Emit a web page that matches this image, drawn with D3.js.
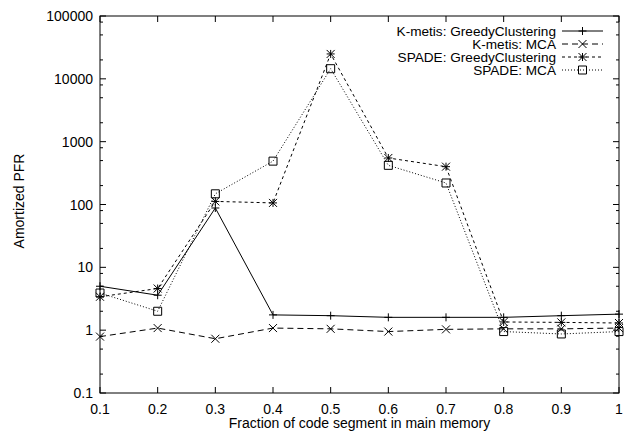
<!DOCTYPE html>
<html>
<head>
<meta charset="utf-8">
<script src="https://cdn.jsdelivr.net/npm/d3@7"></script>
<style>
  body { margin: 0; background: #fff; }
  svg text { font-family: "Liberation Sans", Arial, Helvetica, sans-serif; font-size: 14px; fill: #000; }
</style>
</head>
<body>
<svg id="chart" width="631" height="435"></svg>
<script>
// Data
const fractions = [0.1, 0.2, 0.3, 0.4, 0.5, 0.6, 0.7, 0.8, 0.9, 1.0];
const kmetisGreedy = [5.0, 3.6, 88, 1.75, 1.7, 1.6, 1.6, 1.6, 1.7, 1.8];
const kmetisMCA = [0.79, 1.08, 0.73, 1.08, 1.05, 0.95, 1.03, 1.05, 1.05, 1.08];
const spadeGreedy = [3.4, 4.6, 112, 106, 24900, 550, 400, 1.35, 1.33, 1.3];
const spadeMCA = [3.9, 2.0, 148, 490, 14500, 420, 220, 0.95, 0.87, 0.95];

const xTicks = [0.1, 0.2, 0.3, 0.4, 0.5, 0.6, 0.7, 0.8, 0.9, 1];
const yTicks = [0.1, 1, 10, 100, 1000, 10000, 100000];
const yTickLabels = ["0.1", "1", "10", "100", "1000", "10000", "100000"];

const seriesNames = ["K-metis: GreedyClustering", "K-metis: MCA", "SPADE: GreedyClustering", "SPADE: MCA"];
const seriesValues = [kmetisGreedy, kmetisMCA, spadeGreedy, spadeMCA];
const dashes = [null, "6,4", "3,3", "1,2"];
const markers = ["plus", "cross", "star", "square"];

const svg = d3.select('#chart');
const plotLeft = 100, plotRight = 619, plotTop = 16, plotBottom = 393;

const x = d3.scaleLinear().domain([0.1, 1]).range([plotLeft, plotRight]);
const y = d3.scaleLog().domain([0.1, 100000]).range([plotBottom, plotTop]);

// Minor ticks at 2, 5, 8 in each decade
const minorTicks = [];
for (let e = -1; e < 5; e++) {
    [2, 5, 8].forEach(m => minorTicks.push(m * Math.pow(10, e)));
}

// Frame
svg.append('rect')
    .attr('x', plotLeft).attr('y', plotTop)
    .attr('width', plotRight - plotLeft).attr('height', plotBottom - plotTop)
    .attr('fill', 'none').attr('stroke', '#000').attr('stroke-width', 1);

const g = svg.append('g').attr('stroke', '#000').attr('stroke-width', 1);

// X ticks (bottom and top, pointing inward)
xTicks.forEach(t => {
    g.append('line').attr('x1', x(t)).attr('x2', x(t)).attr('y1', plotBottom).attr('y2', plotBottom - 6);
    g.append('line').attr('x1', x(t)).attr('x2', x(t)).attr('y1', plotTop).attr('y2', plotTop + 6);
});
// Y major ticks (left and right)
yTicks.forEach(t => {
    g.append('line').attr('x1', plotLeft).attr('x2', plotLeft + 6).attr('y1', y(t)).attr('y2', y(t));
    g.append('line').attr('x1', plotRight).attr('x2', plotRight - 6).attr('y1', y(t)).attr('y2', y(t));
});
// Y minor ticks
minorTicks.forEach(t => {
    g.append('line').attr('x1', plotLeft).attr('x2', plotLeft + 3).attr('y1', y(t)).attr('y2', y(t));
    g.append('line').attr('x1', plotRight).attr('x2', plotRight - 3).attr('y1', y(t)).attr('y2', y(t));
});

// Tick labels
svg.selectAll('.xlabel')
    .data(xTicks)
    .enter()
    .append('text')
    .attr('x', d => x(d))
    .attr('y', plotBottom + 21)
    .attr('text-anchor', 'middle')
    .text(d => d === 1 ? "1" : d.toFixed(1));

svg.selectAll('.ylabel')
    .data(yTicks)
    .enter()
    .append('text')
    .attr('x', plotLeft - 7)
    .attr('y', d => y(d) + 5)
    .attr('text-anchor', 'end')
    .text((d, i) => yTickLabels[i]);

// Axis titles
svg.append('text')
    .attr('x', (plotLeft + plotRight) / 2)
    .attr('y', 428)
    .attr('text-anchor', 'middle')
    .text('Fraction of code segment in main memory');

svg.append('text')
    .attr('transform', 'translate(23.5, 201) rotate(-90)')
    .attr('text-anchor', 'middle')
    .text('Amortized PFR');

// Marker path generator
function markerPath(type, cx, cy) {
    const s = 4;
    if (type === 'plus') {
        return `M${cx - s},${cy}H${cx + s}M${cx},${cy - s}V${cy + s}`;
    } else if (type === 'cross') {
        return `M${cx - s},${cy - s}L${cx + s},${cy + s}M${cx - s},${cy + s}L${cx + s},${cy - s}`;
    } else if (type === 'star') {
        return `M${cx - s},${cy}H${cx + s}M${cx},${cy - s}V${cy + s}` +
               `M${cx - s},${cy - s}L${cx + s},${cy + s}M${cx - s},${cy + s}L${cx + s},${cy - s}`;
    }
    return `M${cx - s},${cy - s}H${cx + s}V${cy + s}H${cx - s}Z`;
}

const line = d3.line()
    .x((d, i) => x(fractions[i]))
    .y(d => y(d));

// Series
seriesValues.forEach((vals, k) => {
    svg.append('path')
        .attr('d', line(vals))
        .attr('fill', 'none')
        .attr('stroke', '#000')
        .attr('stroke-width', 1)
        .attr('stroke-dasharray', dashes[k]);
    svg.selectAll('.m' + k)
        .data(vals)
        .enter()
        .append('path')
        .attr('d', (d, i) => markerPath(markers[k], x(fractions[i]), y(d)))
        .attr('fill', 'none')
        .attr('stroke', '#000')
        .attr('stroke-width', 1);
});

// Legend (rows are tightly packed, as in the reference)
const legendRows = [31, 44, 57, 70];
seriesNames.forEach((name, k) => {
    const ly = legendRows[k];
    svg.append('text')
        .attr('x', 556)
        .attr('y', ly + 5)
        .attr('text-anchor', 'end')
        .style('font-size', '13.6px')
        .text(name);
    svg.append('line')
        .attr('x1', 562).attr('x2', 603)
        .attr('y1', ly).attr('y2', ly)
        .attr('stroke', '#000')
        .attr('stroke-width', 1)
        .attr('stroke-dasharray', dashes[k]);
    svg.append('path')
        .attr('d', markerPath(markers[k], 582.5, ly))
        .attr('fill', 'none')
        .attr('stroke', '#000')
        .attr('stroke-width', 1);
});
</script>
</body>
</html>
